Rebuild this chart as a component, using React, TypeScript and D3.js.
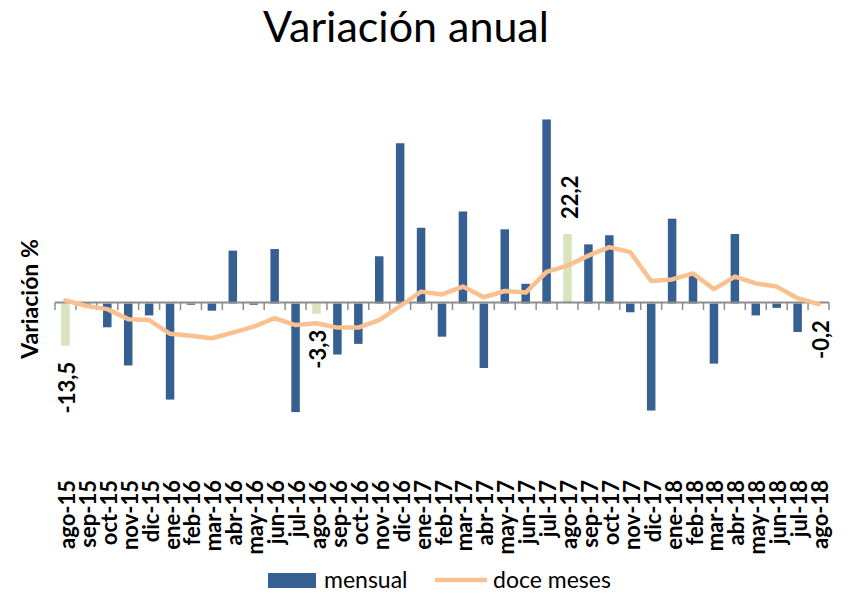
import React from "react";
import * as d3 from "d3";

const categories = [
  "ago-15", "sep-15", "oct-15", "nov-15", "dic-15",
  "ene-16", "feb-16", "mar-16", "abr-16", "may-16", "jun-16", "jul-16", "ago-16", "sep-16", "oct-16", "nov-16", "dic-16",
  "ene-17", "feb-17", "mar-17", "abr-17", "may-17", "jun-17", "jul-17", "ago-17", "sep-17", "oct-17", "nov-17", "dic-17",
  "ene-18", "feb-18", "mar-18", "abr-18", "may-18", "jun-18", "jul-18", "ago-18",
];

const mensual = [
  -13.5, -0.7, -7.6, -19.8, -3.8,
  -30.7, -0.4, -2.3, 16.9, -0.4, 17.4, -34.7, -3.3, -16.3, -12.9, 15.1, 51.2,
  24.2, -10.6, 29.4, -20.6, 23.7, 6.3, 58.8, 22.2, 18.9, 21.8, -2.8, -34.2,
  27.1, 8.9, -19.2, 22.2, -3.8, -1.4, -9.1, -0.2,
];

const doceMeses = [
  1.0, -0.8, -1.8, -5.0, -5.3,
  -9.7, -10.3, -11.1, -9.3, -7.4, -4.7, -6.9, -6.3, -7.7, -7.7, -5.3, -0.8,
  3.8, 2.9, 5.4, 2.0, 4.0, 3.5, 10.1, 12.1, 15.3, 18.0, 16.4, 7.2,
  7.7, 9.6, 4.6, 8.6, 6.4, 5.4, 1.7, -0.2,
];

const highlighted = ["ago-15", "ago-16", "ago-17", "ago-18"];

const yDomain = [-50, 70];

const FONT = "Lato, 'Open Sans', sans-serif";
const BLUE = "#376092";
const GREEN = "#D7E4BD";
const ORANGE = "#FAC090";
const AXIS = "#8C8C8C";

export default function App() {
  const width = 848;
  const height = 594;
  const x = d3.scaleBand<string>().domain(categories).range([55, 829]).paddingInner(0).paddingOuter(0);
  const y = d3.scaleLinear().domain(yDomain).range([460, 84.4]);
  const bw = 8.5;
  const bandW = x.bandwidth();
  const cx = (c: string) => (x(c) as number) + bandW / 2;
  const y0 = y(0);

  const line = d3
    .line<number>()
    .x((_, i) => cx(categories[i]))
    .y((d) => y(d))
    .curve(d3.curveLinear);

  const fmt = (v: number) => v.toFixed(1).replace(".", ",");
  const boundaries = d3.range(categories.length + 1).map((i) => 55 + i * bandW);
  const labelTop = 480;

  return (
    <svg width={width} height={height} style={{ display: "block", position: "absolute", left: 0, top: 0 }}>
      <rect x={0} y={0} width={width} height={height} fill="#fff" />
      <text x={406} y={42} textAnchor="middle" fontFamily={FONT} fontSize={43} fill="#000">
        Variación anual
      </text>

      {/* bars */}
      {mensual.map((v, i) => {
        const c = categories[i];
        const top = Math.min(y(v), y0);
        const h = Math.abs(y(v) - y0);
        return (
          <rect
            key={c}
            x={cx(c) - bw / 2}
            y={top}
            width={bw}
            height={h}
            fill={highlighted.includes(c) ? GREEN : BLUE}
          />
        );
      })}

      {/* axis */}
      <line x1={55} x2={829} y1={y0 - 1} y2={y0 - 1} stroke={AXIS} strokeWidth={2} />
      {boundaries.map((bx, i) => (
        <line key={i} x1={bx} x2={bx} y1={y0 - 1} y2={y0 + 6.5} stroke={AXIS} strokeWidth={1.5} />
      ))}

      {/* twelve-month line */}
      <path d={line(doceMeses) || ""} fill="none" stroke={ORANGE} strokeWidth={4.5} strokeLinejoin="round" strokeLinecap="round" />

      {/* data labels */}
      {mensual.map((v, i) => {
        const c = categories[i];
        if (!highlighted.includes(c)) return null;
        const neg = v < 0;
        const ly = neg ? y(v) + 16 : y(v) - 15;
        const lx = cx(c) + 10;
        return (
          <text
            key={"l" + c}
            transform={`translate(${lx},${ly}) rotate(-90)`}
            textAnchor={neg ? "end" : "start"}
            fontFamily={FONT}
            fontWeight="bold"
            fontSize={22}
            fill="#000"
          >
            {fmt(v)}
          </text>
        );
      })}

      {/* category labels */}
      {categories.map((c) => (
        <text
          key={"t" + c}
          transform={`translate(${cx(c) + 9.5},${labelTop}) rotate(-90)`}
          textAnchor="end"
          fontFamily={FONT}
          fontWeight="bold"
          fontSize={22}
          fill="#000"
        >
          {c}
        </text>
      ))}

      {/* y axis title */}
      <text
        transform={`translate(29,299) rotate(-90)`}
        textAnchor="middle"
        dominantBaseline="central"
        fontFamily={FONT}
        fontWeight="bold"
        fontSize={23}
        fill="#000"
      >
        Variación %
      </text>

      {/* legend */}
      <rect x={268} y={573} width={48} height={15} fill={BLUE} />
      <text x={324} y={588} fontFamily={FONT} fontSize={23} fill="#000">
        mensual
      </text>
      <line x1={435} x2={487} y1={580} y2={580} stroke={ORANGE} strokeWidth={4.5} />
      <text x={493} y={588} fontFamily={FONT} fontSize={23} fill="#000">
        doce meses
      </text>
    </svg>
  );
}
